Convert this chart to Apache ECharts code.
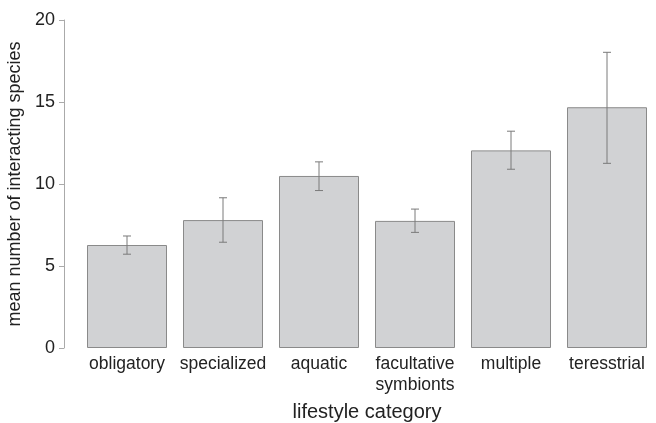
<!DOCTYPE html>
<html><head><meta charset="utf-8">
<script src="https://cdn.jsdelivr.net/npm/echarts@6/dist/echarts.min.js"></script>
<style>html,body{margin:0;padding:0;background:#fff}#c{width:656px;height:423px}</style>
</head><body><div id="c"></div>
<script>
var categories = ['obligatory', 'specialized', 'aquatic', 'facultative\nsymbionts', 'multiple', 'teresstrial'];
var means = [6.28, 7.8, 10.49, 7.75, 12.05, 14.68];
var errLow = [5.72, 6.45, 9.6, 7.05, 10.9, 11.26];
var errHigh = [6.83, 9.16, 11.35, 8.47, 13.22, 18.03];
var yTicks = [0, 5, 10, 15, 20];

var errData = categories.map(function (c, i) { return [i, errLow[i], errHigh[i]]; });
var font = '"Liberation Sans", Arial, Helvetica, sans-serif';
var chart = echarts.init(document.getElementById('c'), null, {renderer: 'canvas'});
chart.setOption({
  animation: false,
  grid: {left: 79, right: 1, top: 20, bottom: 75, containLabel: false, outerBoundsMode: 'none'},
  xAxis: {
    type: 'category', data: categories,
    axisLine: {show: false}, axisTick: {show: false},
    axisLabel: {color: '#222', fontSize: 17.5, fontFamily: font, margin: 6, lineHeight: 21, interval: 0},
    name: 'lifestyle category', nameLocation: 'middle', nameGap: 54,
    nameTextStyle: {color: '#222', fontSize: 20, fontFamily: font}
  },
  yAxis: {
    type: 'value', min: 0, max: 20, interval: 5, offset: 15,
    axisLine: {show: true, lineStyle: {color: '#aaa', width: 1}},
    axisTick: {show: true, length: 5, lineStyle: {color: '#aaa'}},
    splitLine: {show: false},
    axisLabel: {color: '#222', fontSize: 18, fontFamily: font, margin: 9,
      formatter: function (v) { return yTicks.indexOf(v) >= 0 ? String(v) : ''; }},
    name: 'mean number of interacting species', nameLocation: 'middle', nameGap: 29,
    nameTextStyle: {color: '#222', fontSize: 18, fontFamily: font}
  },
  series: [{
    type: 'bar', data: means, barWidth: 80,
    itemStyle: {color: '#d1d2d4', borderColor: '#8a8a8a', borderWidth: 1}
  }, {
    type: 'custom', data: errData, z: 10,
    renderItem: function (params, api) {
      var x = api.value(0);
      var lo = api.coord([x, api.value(1)]);
      var hi = api.coord([x, api.value(2)]);
      var cap = 4;
      var st = {stroke: '#7a7a7a', lineWidth: 1};
      return {type: 'group', children: [
        {type: 'line', shape: {x1: lo[0], y1: lo[1], x2: hi[0], y2: hi[1]}, style: st},
        {type: 'line', shape: {x1: lo[0] - cap, y1: lo[1], x2: lo[0] + cap, y2: lo[1]}, style: st},
        {type: 'line', shape: {x1: hi[0] - cap, y1: hi[1], x2: hi[0] + cap, y2: hi[1]}, style: st}
      ]};
    }
  }]
});
</script></body></html>
